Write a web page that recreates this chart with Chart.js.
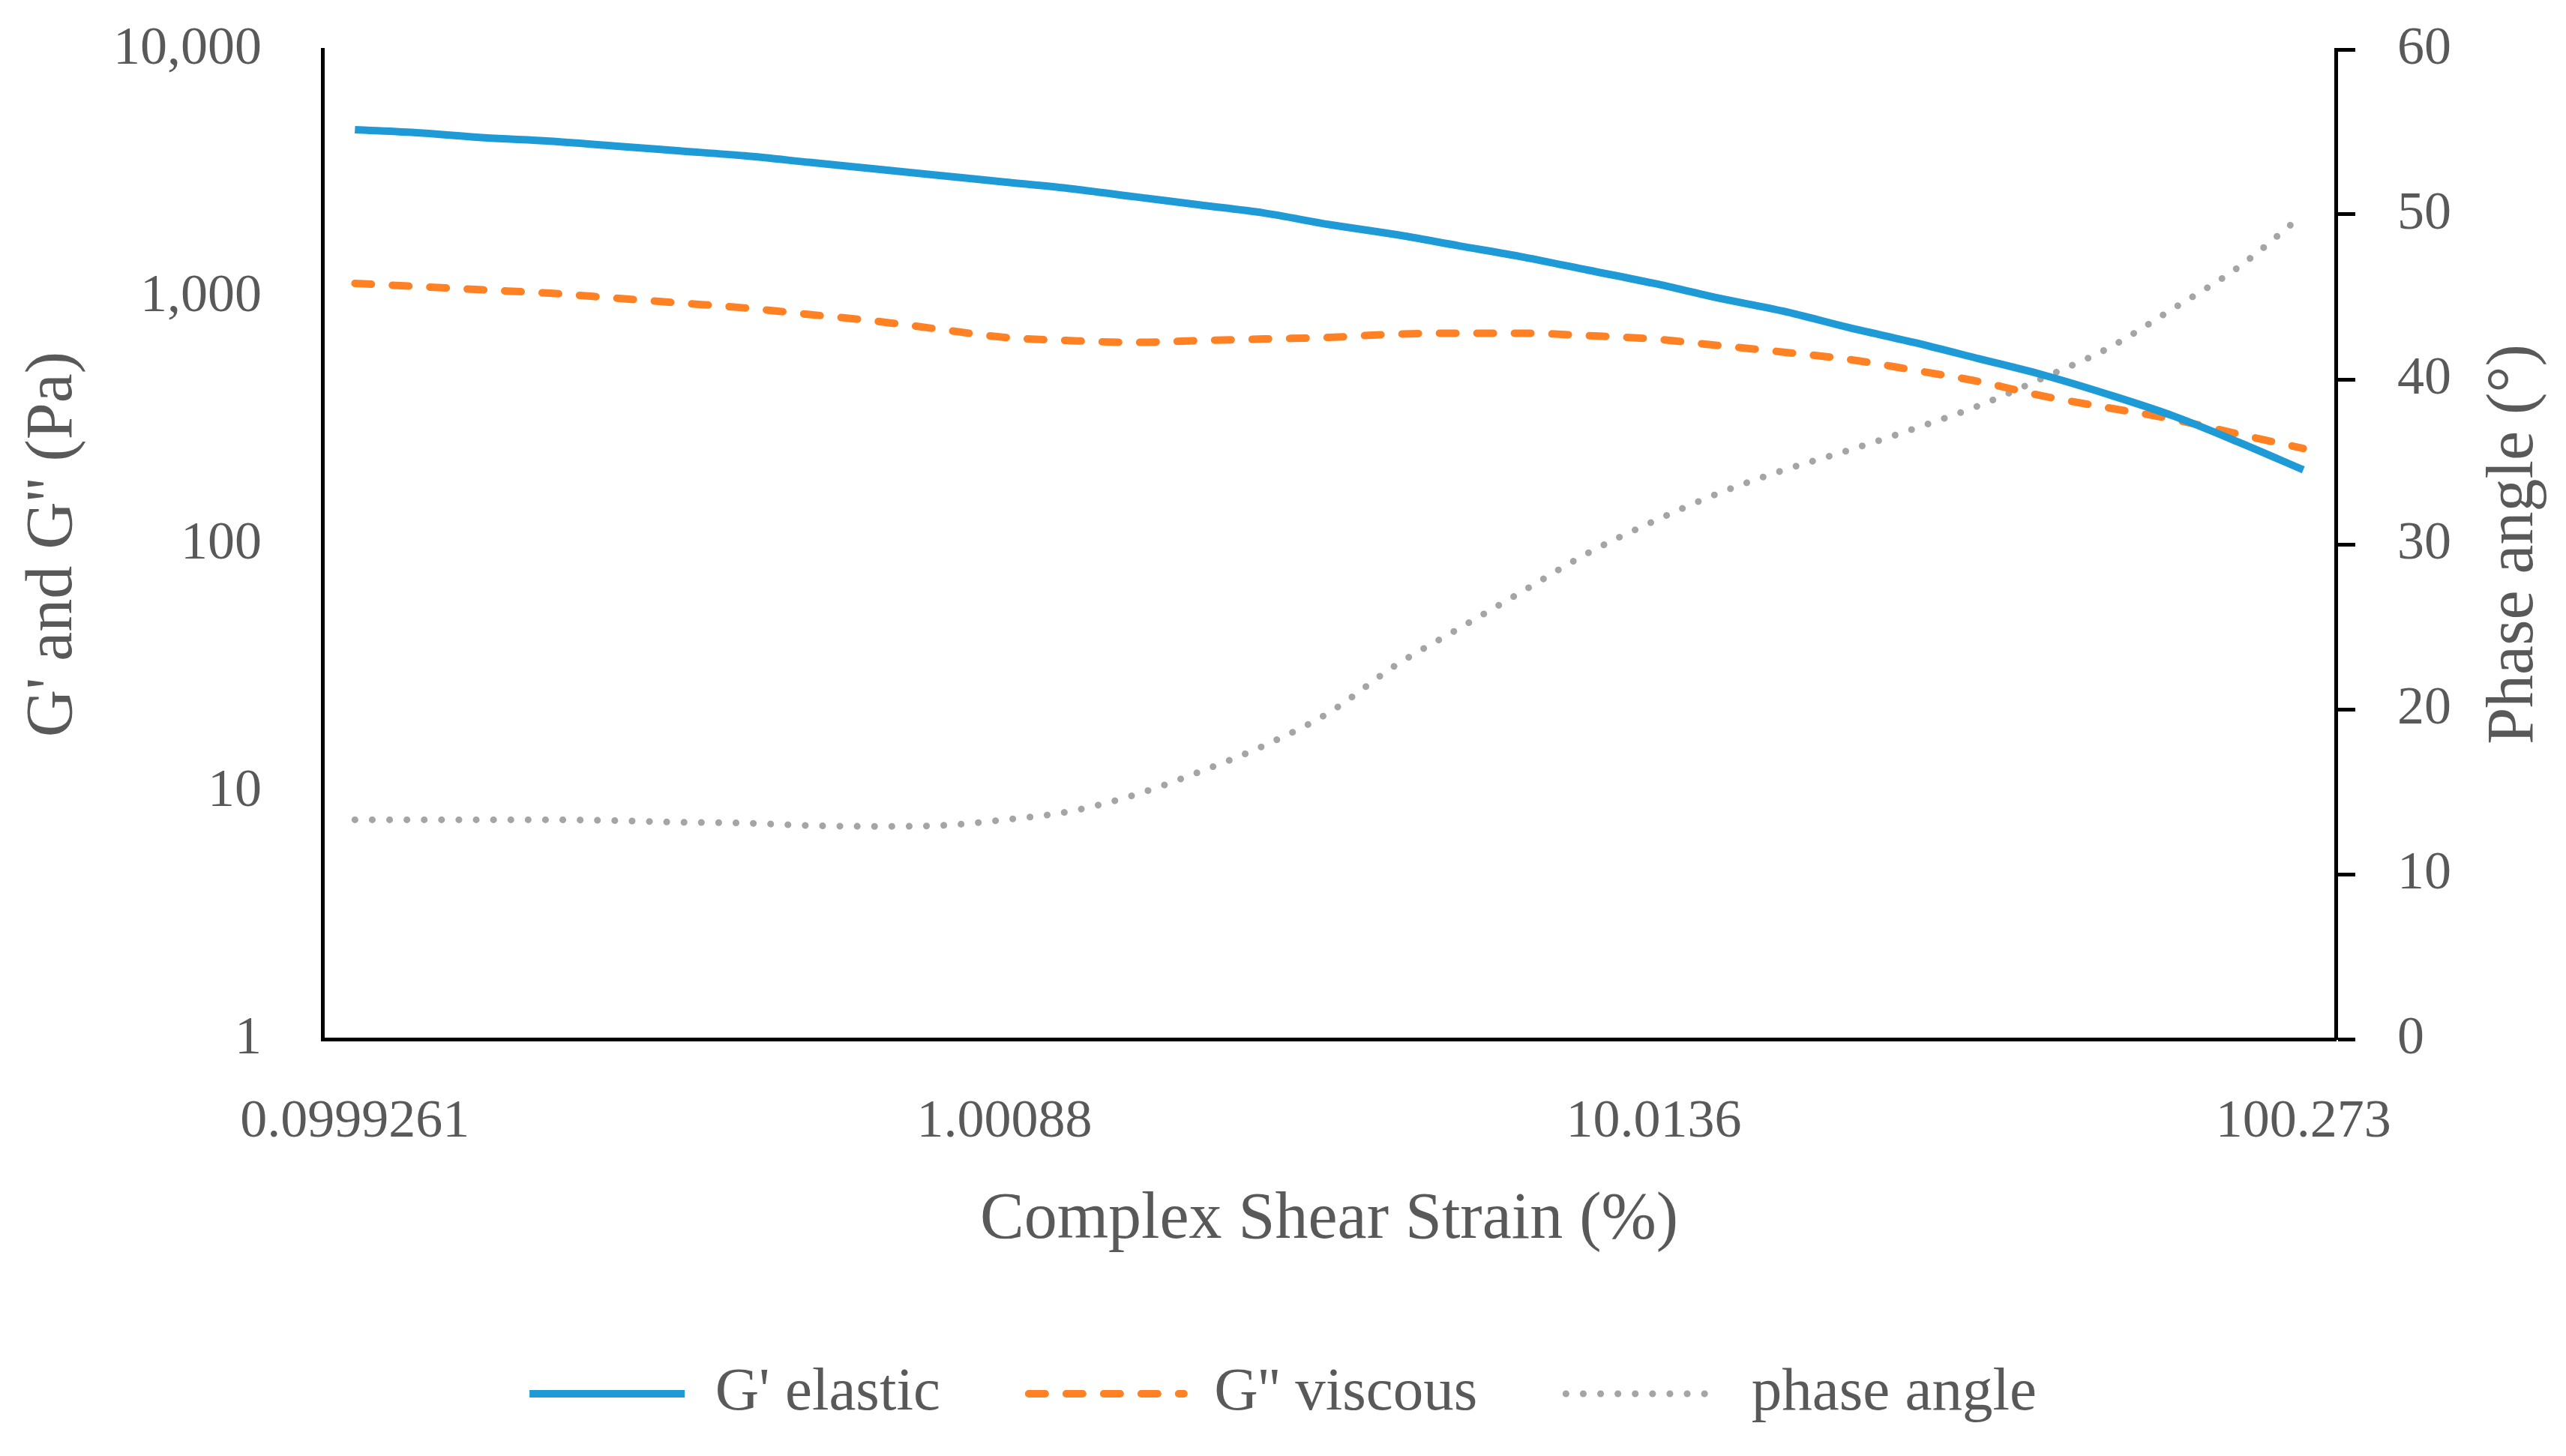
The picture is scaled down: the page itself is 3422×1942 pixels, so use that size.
<!DOCTYPE html>
<html>
<head>
<meta charset="utf-8">
<script src="https://cdn.jsdelivr.net/npm/chart.js@4.4.1/dist/chart.umd.min.js"></script>
<style>
  html, body { margin: 0; padding: 0; background: #fff; }
  canvas { display: block; }
</style>
</head>
<body>
<canvas id="chart" width="3422" height="1942" style="width:3422px;height:1942px"></canvas>
<script>
// strain (%) categories, one per measured point
var strainLabels = ['0.0999261','0.126','0.158','0.199','0.251','0.316','0.398','0.501','0.631','0.794',
  '1.00088','1.26','1.59','2.00','2.52','3.17','3.99','5.02','6.32','7.96',
  '10.0136','12.6','15.9','20.0','25.2','31.8','40.0','50.3','63.4','79.8','100.273'];
// G' elastic (Pa)
var gElastic = [4743,4601,4395,4264,4073,3891,3717,3498,3291,3097,2914,2742,2541,2354,2182,1961,
  1790,1609,1447,1281,1134,989,875,752,655,563,483,403,330,259,200];
// G'' viscous (Pa)
var gViscous = [1134,1100,1067,1035,989,945,903,849,799,740,686,666,655,666,676,686,
  707,713,713,697,676,636,598,559,506,455,397,356,320,279,244];
// phase angle (deg)
var phaseAngle = [13.3,13.3,13.3,13.3,13.25,13.15,13.1,12.95,12.9,12.95,13.3,13.8,14.8,16.2,17.8,19.8,
  22.6,24.9,27.2,29.5,31.4,33.1,34.5,35.7,37.0,38.4,40.1,41.9,44.3,46.8,50.0];
var leftTicks = [1,10,100,1000,10000];
var labelEvery = 10;

var FONT = '"Liberation Serif", "Times New Roman", serif';
var GREY = '#595959';

// right axis title reads bottom-to-top, chart.js would rotate it the other way
var rightTitle = {
  id: 'rightTitle',
  afterDraw: function(chart){
    var s = chart.scales.y1;
    var ctx = chart.ctx;
    ctx.save();
    ctx.translate(s.right - 68, (s.top + s.bottom) / 2);
    ctx.rotate(-Math.PI / 2);
    ctx.font = '88px ' + FONT;
    ctx.fillStyle = GREY;
    ctx.textAlign = 'center';
    ctx.textBaseline = 'middle';
    ctx.fillText('Phase angle (°)', 0, 0);
    ctx.restore();
  }
};

// legend samples should carry the dataset's dash pattern
function legendLabels(chart){
  var items = Chart.defaults.plugins.legend.labels.generateLabels(chart);
  items.forEach(function(it){
    var ds = chart.data.datasets[it.datasetIndex];
    it.lineDash = ds.borderDash || [];
    it.lineCap = ds.borderCapStyle || 'butt';
    it.lineWidth = ds.borderWidth;
    it.strokeStyle = ds.borderColor;
  });
  return items;
}

function fixWidth(w){
  return function(s){
    s.width = w;
    s.paddingTop = 0;
    s.paddingBottom = 0;
  };
}

var ctx = document.getElementById('chart').getContext('2d');
var chart = new Chart(ctx, {
  type: 'line',
  data: {
    labels: strainLabels,
    datasets: [{
      label: "G' elastic",
      data: gElastic,
      yAxisID: 'y',
      borderColor: '#1E9BD7',
      backgroundColor: '#1E9BD7',
      borderWidth: 10,
      pointRadius: 0,
      cubicInterpolationMode: 'monotone'
    }, {
      label: "G'' viscous",
      data: gViscous,
      yAxisID: 'y',
      borderColor: '#FF8124',
      backgroundColor: '#FF8124',
      borderWidth: 10,
      borderDash: [22, 28],
      borderCapStyle: 'round',
      pointRadius: 0,
      cubicInterpolationMode: 'monotone'
    }, {
      label: 'phase angle',
      data: phaseAngle,
      yAxisID: 'y1',
      borderColor: '#A5A5A5',
      backgroundColor: '#A5A5A5',
      borderWidth: 9,
      borderDash: [0.1, 23],
      borderCapStyle: 'round',
      pointRadius: 0,
      cubicInterpolationMode: 'monotone'
    }]
  },
  options: {
    responsive: false,
    devicePixelRatio: 1,
    animation: false,
    layout: { padding: { top: 66, left: 0, right: 0, bottom: 32.5 } },
    plugins: {
      tooltip: { enabled: false },
      legend: {
        position: 'bottom',
        labels: {
          usePointStyle: true,
          pointStyle: 'line',
          pointStyleWidth: 207,
          padding: 118,
          color: GREY,
          font: { family: FONT, size: 81 },
          generateLabels: legendLabels
        }
      }
    },
    scales: {
      x: {
        type: 'category',
        offset: true,
        afterFit: function(s){ s.height = 314.5; },
        grid: { display: false, drawTicks: false },
        border: { color: '#000', width: 5 },
        ticks: {
          autoSkip: false,
          maxRotation: 0,
          minRotation: 0,
          padding: 68,
          color: GREY,
          font: { family: FONT, size: 72 },
          callback: function(v, i){ return i % labelEvery === 0 ? this.getLabelForValue(v) : ''; }
        },
        title: {
          display: true,
          text: 'Complex Shear Strain (%)',
          color: GREY,
          font: { family: FONT, size: 88 },
          padding: { top: 0, bottom: 20 }
        }
      },
      y: {
        type: 'logarithmic',
        position: 'left',
        min: 1,
        max: 10000,
        afterFit: fixWidth(430),
        afterBuildTicks: function(s){ s.ticks = leftTicks.map(function(v){ return { value: v }; }); },
        grid: { display: false, drawTicks: false },
        border: { color: '#000', width: 5 },
        ticks: {
          padding: 81,
          color: GREY,
          font: { family: FONT, size: 72 },
          callback: function(v){ return Number(v).toLocaleString('en-US'); }
        },
        title: {
          display: true,
          text: "G' and G'' (Pa)",
          color: GREY,
          font: { family: FONT, size: 88 },
          padding: { top: 19, bottom: 0 }
        }
      },
      y1: {
        type: 'linear',
        position: 'right',
        min: 0,
        max: 60,
        afterFit: fixWidth(307),
        grid: {
          drawOnChartArea: false,
          drawTicks: true,
          tickLength: 26,
          tickWidth: 5,
          tickColor: '#000'
        },
        border: { color: '#000', width: 5 },
        ticks: {
          stepSize: 10,
          padding: 56,
          color: GREY,
          font: { family: FONT, size: 72 }
        }
      }
    }
  },
  plugins: [rightTitle]
});
</script>
</body>
</html>
